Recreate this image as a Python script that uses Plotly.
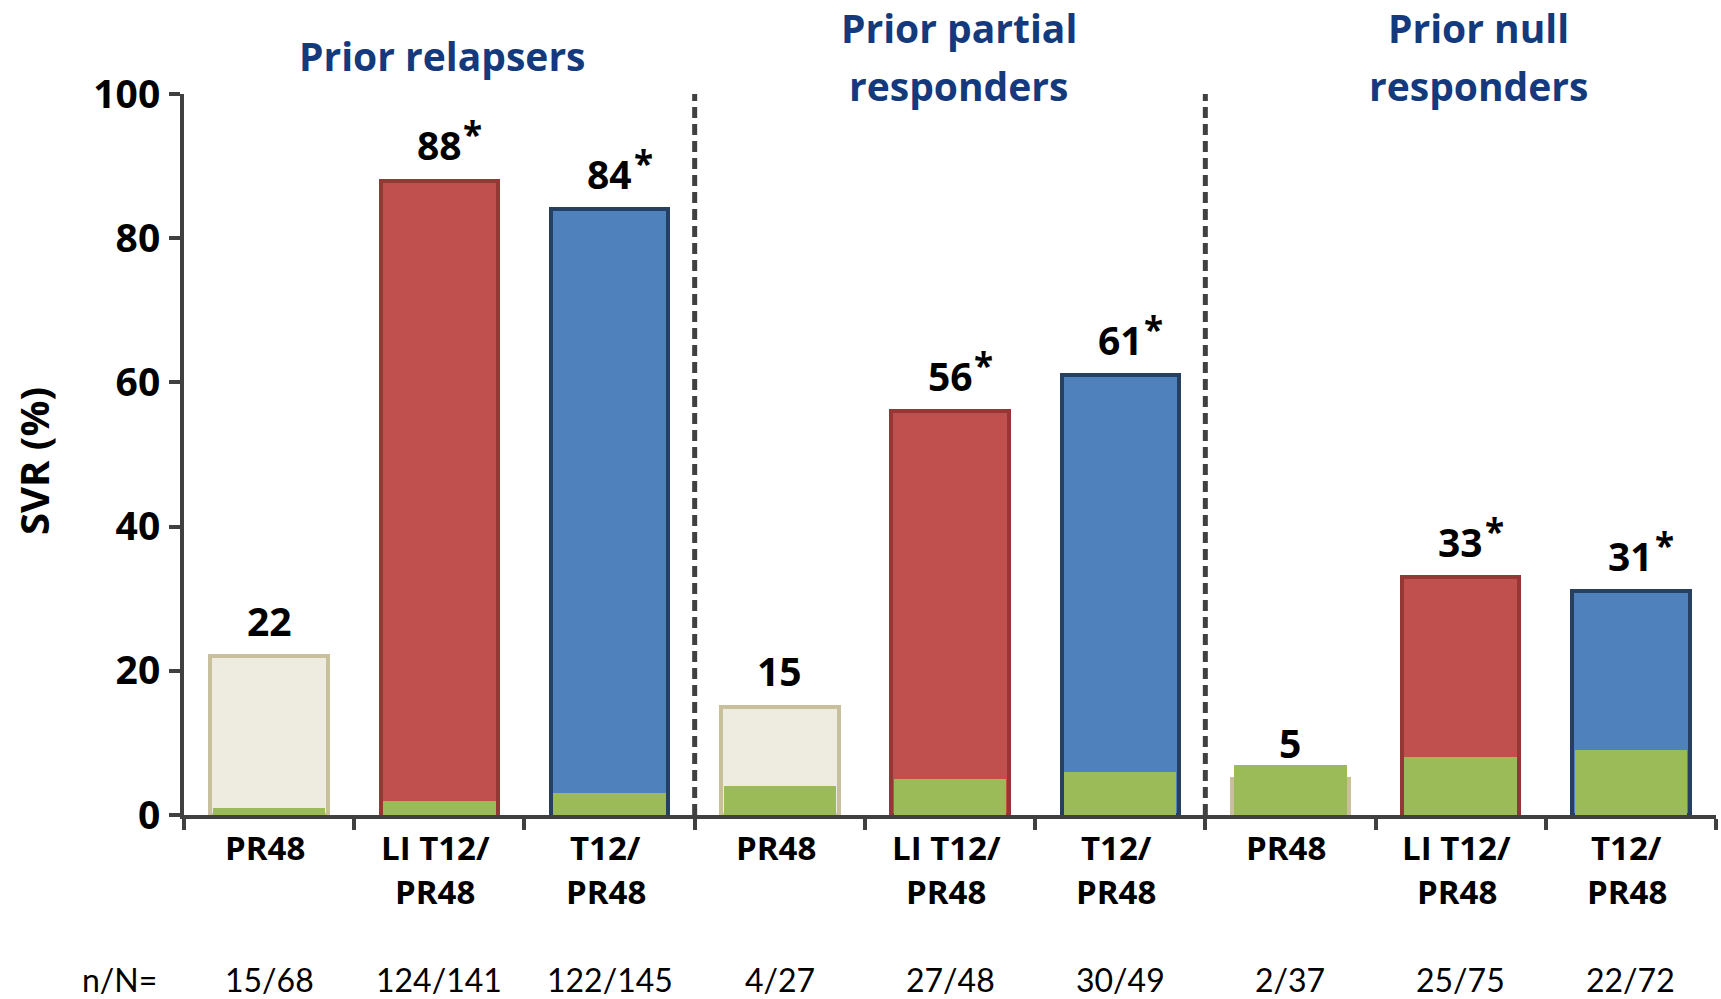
import plotly.graph_objects as go

# ---- data ----
groups = ["Prior relapsers", "Prior partial responders", "Prior null responders"]
categories = ["PR48", "LI T12/<br>PR48", "T12/<br>PR48"] * 3
svr = [22, 88, 84, 15, 56, 61, 5, 33, 31]
significant = [False, True, True, False, True, True, False, True, True]
green_vals = [1, 2, 3, 4, 5, 6, 7, 8, 9]
n_over_N = ["15/68", "124/141", "122/145", "4/27", "27/48", "30/49", "2/37", "25/75", "22/72"]
y_ticks = [0, 20, 40, 60, 80, 100]

# ---- styles ----
fills = ["#EEEBE0", "#C0504D", "#4F81BD"] * 3
lines = ["#C8C09A", "#953735", "#254061"] * 3
GREEN = "#9BBB59"
AXIS = "#404040"
TITLE_BLUE = "#14397D"
BOLD_FONT = "Open Sans"
REG_FONT = "Lato"

W, H = 1721, 999
L, R, T, B = 184, 5, 94, 184
pw = W - L - R

def px_to_paper_x(px):
    return (px - L) / pw

def px_to_paper_y(py):
    return (H - B - py) / (H - T - B)

x = list(range(len(svr)))

fig = go.Figure()
fig.add_trace(go.Bar(
    x=x, y=svr, width=0.69,
    marker=dict(color=fills, line=dict(color=lines, width=4)),
    hoverinfo="skip", showlegend=False,
))
fig.add_trace(go.Bar(
    x=x, y=green_vals, width=0.66,
    marker=dict(color=GREEN, line=dict(width=0)),
    hoverinfo="skip", showlegend=False,
))

ann = []
# value labels
for i, v in enumerate(svr):
    ann.append(dict(x=i, y=v, xref="x", yref="y", text=f"<b>{v}</b>",
                    showarrow=False, xanchor="center", yanchor="middle", yshift=36,
                    font=dict(family=BOLD_FONT, size=39, color="black")))
    if significant[i]:
        ann.append(dict(x=i, y=v, xref="x", yref="y", text="<b>*</b>",
                        showarrow=False, xanchor="left", yanchor="middle",
                        xshift=22, yshift=47,
                        font=dict(family=BOLD_FONT, size=35, color="black")))

# category labels
for i, c in enumerate(categories):
    parts = c.split("<br>")
    for j, p in enumerate(parts):
        ann.append(dict(x=i, y=px_to_paper_y(847 + 44 * j), xref="x", yref="paper",
                        text=f"<b>{p}</b>", showarrow=False, xanchor="center", yanchor="middle",
                        xshift=-4,
                        font=dict(family=BOLD_FONT, size=33, color="black")))

# n/N row
ann.append(dict(x=px_to_paper_x(119), y=px_to_paper_y(980), xref="paper", yref="paper",
                text="n/N=", showarrow=False, xanchor="center", yanchor="middle",
                font=dict(family=REG_FONT, size=32, color="black")))
for i, t in enumerate(n_over_N):
    ann.append(dict(x=i, y=px_to_paper_y(980), xref="x", yref="paper",
                    text=t, showarrow=False, xanchor="center", yanchor="middle",
                    font=dict(family=REG_FONT, size=32, color="black")))

# group titles
title_lines = [["Prior relapsers"], ["Prior partial", "responders"], ["Prior null", "responders"]]
title_x = [442, 959, 1478]
title_y = [[55], [27, 85], [27, 85]]
for g in range(3):
    for k, line in enumerate(title_lines[g]):
        ann.append(dict(x=px_to_paper_x(title_x[g]), y=px_to_paper_y(title_y[g][k]),
                        xref="paper", yref="paper", text=f"<b>{line}</b>",
                        showarrow=False, xanchor="center", yanchor="middle",
                        font=dict(family=BOLD_FONT, size=39, color=TITLE_BLUE)))

# y-axis title
ann.append(dict(x=px_to_paper_x(33), y=px_to_paper_y(461), xref="paper", yref="paper",
                text="<b>SVR (%)</b>", textangle=-90, showarrow=False,
                xanchor="center", yanchor="middle",
                font=dict(family=BOLD_FONT, size=40, color="black")))

shapes = []
for xs in [2.5, 5.5]:
    shapes.append(dict(type="line", x0=xs, x1=xs, y0=0, y1=100, xref="x", yref="y",
                       line=dict(color=AXIS, width=5, dash="11px,6px")))

fig.update_layout(
    width=W, height=H,
    margin=dict(l=L, r=R, t=T, b=B),
    plot_bgcolor="white", paper_bgcolor="white",
    barmode="overlay", bargap=0,
    annotations=ann, shapes=shapes,
    showlegend=False,
)
fig.update_xaxes(
    range=[-0.5, 8.5], tickvals=[i - 0.5 for i in range(10)], ticktext=[""] * 10,
    ticks="outside", ticklen=11, tickwidth=4, tickcolor=AXIS,
    showline=True, linecolor=AXIS, linewidth=4, showgrid=False, zeroline=False,
)
fig.update_yaxes(
    range=[0, 100], tickvals=y_ticks, ticktext=[str(v) for v in y_ticks],
    ticks="outside", ticklen=11, tickwidth=4, tickcolor=AXIS,
    showline=True, linecolor=AXIS, linewidth=4, showgrid=False, zeroline=False,
    tickfont=dict(family=BOLD_FONT, size=39, color="black", weight="bold"),
    ticklabelstandoff=1,
)

fig.write_html("out.html", config={"displayModeBar": False},
               post_script="document.body.style.margin='0';document.body.style.overflow='hidden';")
